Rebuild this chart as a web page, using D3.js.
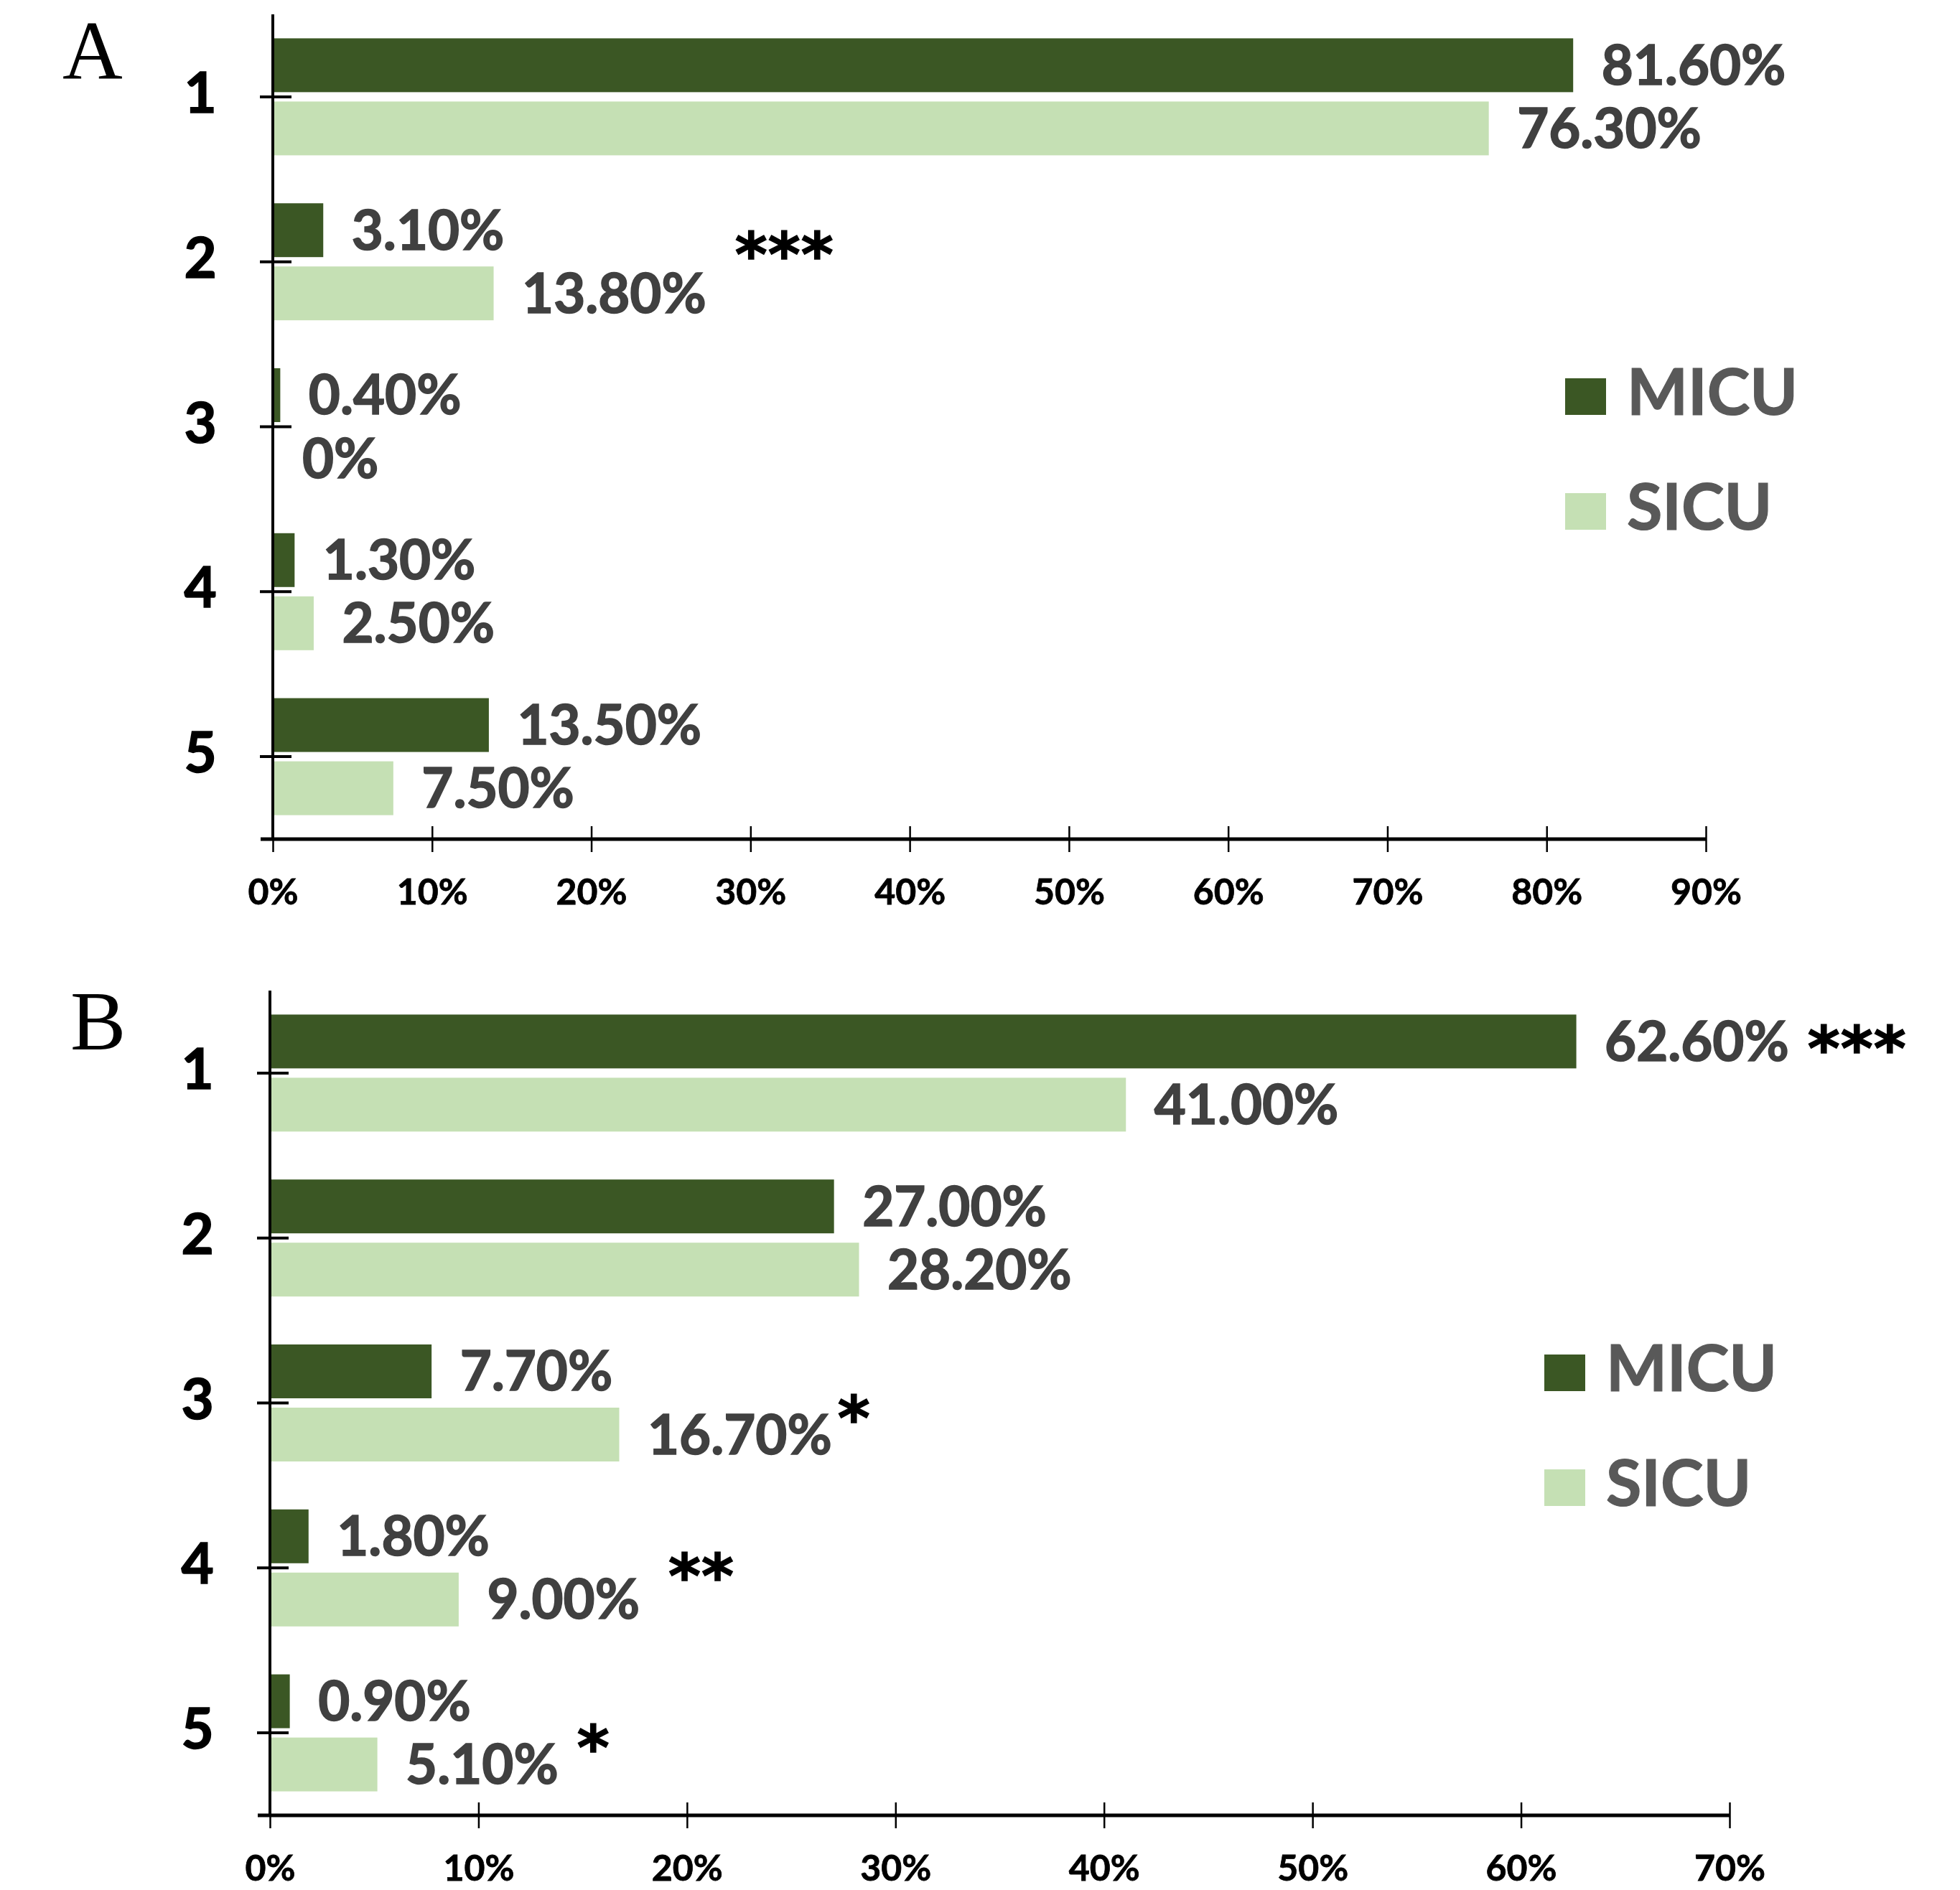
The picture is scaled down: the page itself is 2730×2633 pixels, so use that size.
<!DOCTYPE html>
<html>
<head>
<meta charset="utf-8">
<script src="https://cdn.jsdelivr.net/npm/d3@7"></script>
<style>
  html, body { margin: 0; padding: 0; background: #ffffff; }
  svg { display: block; }
</style>
</head>
<body>
<svg id="chart" width="2730" height="2633"></svg>
<script>
// ---- data ----
const categories = ['1', '2', '3', '4', '5'];
const seriesNames = ['MICU', 'SICU'];

// panel A percentages
const panelAMicu = [81.6, 3.1, 0.4, 1.3, 13.5];
const panelASicu = [76.3, 13.8, 0, 2.5, 7.5];
const panelATicks = [0, 10, 20, 30, 40, 50, 60, 70, 80, 90];

// panel B percentages
const panelBMicu = [62.6, 27.0, 7.7, 1.8, 0.9];
const panelBSicu = [41.0, 28.2, 16.7, 9.0, 5.1];
const panelBTicks = [0, 10, 20, 30, 40, 50, 60, 70];

// significance marks: which category, which label they follow, which row
const panelASignificance = [
  { category: '2', marks: '***', follows: 'SICU', row: 'between', tight: false }
];
const panelBSignificance = [
  { category: '1', marks: '***', follows: 'MICU', row: 'MICU', tight: false },
  { category: '3', marks: '*',   follows: 'SICU', row: 'SICU', tight: true },
  { category: '4', marks: '**',  follows: 'SICU', row: 'between', tight: false },
  { category: '5', marks: '*',   follows: 'SICU', row: 'SICU', tight: false }
];

// ---- styling ----
const colors = { MICU: '#3b5724', SICU: '#c5e0b4' };
const labelFont = 'Lato, "Open Sans", "DejaVu Sans", sans-serif';
const starFont = '"DejaVu Sans", sans-serif';

const panels = [
  { letter: 'A', micu: panelAMicu, sicu: panelASicu, ticks: panelATicks, marks: panelASignificance,
    left: 380, right: 2376, top: 20, axisY: 1169, letterX: 87, letterY: 110, legendX: 2180, betweenShift: -20 },
  { letter: 'B', micu: panelBMicu, sicu: panelBSicu, ticks: panelBTicks, marks: panelBSignificance,
    left: 376, right: 2409, top: 1380, axisY: 2529, letterX: 98, letterY: 1462, legendX: 2151, betweenShift: 2 }
];

const svg = d3.select('#chart');
const fmtValue = v => v === 0 ? '0%' : v.toFixed(2) + '%';

panels.forEach(p => {
  const g = svg.append('g');
  const maxTick = p.ticks[p.ticks.length - 1];

  const x = d3.scaleLinear().domain([0, maxTick]).range([p.left, p.right]);
  const y = d3.scaleBand().domain(categories).range([p.top, p.axisY]).padding(0);
  // two bars per category, centred on the category tick
  const inner = d3.scaleBand().domain(seriesNames).range([-81.5, 81.5]).paddingInner(0.148);
  const rowCenter = (cat, s) => y(cat) + y.bandwidth() / 2 + inner(s) + inner.bandwidth() / 2;

  const rows = [];
  categories.forEach((c, i) => {
    rows.push({ cat: c, series: 'MICU', value: p.micu[i] });
    rows.push({ cat: c, series: 'SICU', value: p.sicu[i] });
  });

  // panel letter
  g.append('text')
    .attr('x', p.letterX).attr('y', p.letterY)
    .attr('font-family', '"Liberation Serif", "Times New Roman", serif')
    .attr('font-size', 116)
    .attr('fill', '#000')
    .text(p.letter);

  // bars
  g.selectAll('rect.bar').data(rows).join('rect')
    .attr('class', 'bar')
    .attr('x', x(0) + 1.5)
    .attr('y', d => y(d.cat) + y.bandwidth() / 2 + inner(d.series))
    .attr('width', d => Math.max(0, x(d.value) - x(0)))
    .attr('height', inner.bandwidth())
    .attr('fill', d => colors[d.series]);

  // value labels
  const labels = g.selectAll('text.val').data(rows).join('text')
    .attr('class', 'val')
    .attr('x', d => x(d.value) + 41)
    .attr('y', d => rowCenter(d.cat, d.series) + 27)
    .attr('font-family', labelFont)
    .attr('font-weight', 700)
    .attr('font-size', 76)
    .attr('fill', '#404040')
    .attr('stroke', '#404040')
    .attr('stroke-width', 1.6)
    .text(d => fmtValue(d.value));

  // significance asterisks
  const labelEnd = {};
  labels.each(function (d) {
    labelEnd[d.cat + '|' + d.series] = x(d.value) + 41 + this.getComputedTextLength();
  });
  g.selectAll('text.sig').data(p.marks).join('text')
    .attr('class', 'sig')
    .attr('x', d => labelEnd[d.category + '|' + d.follows] + (d.tight ? 8 : (d.row === 'between' ? 40 : 26)))
    .attr('y', d => {
      let cy;
      if (d.row === 'between') cy = y(d.category) + y.bandwidth() / 2 + p.betweenShift;
      else if (d.row === 'SICU') cy = rowCenter(d.category, 'SICU') - 33;
      else cy = rowCenter(d.category, d.row);
      return cy + 40;
    })
    .attr('font-family', starFont)
    .attr('font-weight', 700)
    .attr('font-size', 86)
    .attr('letter-spacing', 1)
    .attr('fill', '#000')
    .attr('stroke', '#000')
    .attr('stroke-width', 1.5)
    .text(d => d.marks);

  // x axis
  const xAxis = g.append('g')
    .attr('transform', `translate(0,${p.axisY})`)
    .call(d3.axisBottom(x).tickValues(p.ticks).tickSize(17).tickFormat(d => d + '%'));
  xAxis.select('.domain').remove();
  xAxis.selectAll('.tick line')
    .attr('y1', -18).attr('y2', 18)
    .attr('stroke', '#000').attr('stroke-width', 2.5);
  xAxis.selectAll('.tick text')
    .attr('y', 91).attr('dy', null)
    .attr('font-family', labelFont)
    .attr('font-weight', 700)
    .attr('font-size', 50)
    .attr('fill', '#000')
    .attr('stroke', '#000')
    .attr('stroke-width', 0.8);
  xAxis.append('line')
    .attr('x1', p.left - 17).attr('x2', p.right)
    .attr('y1', 0).attr('y2', 0)
    .attr('stroke', '#000').attr('stroke-width', 5);

  // y axis
  const yAxis = g.append('g')
    .attr('transform', `translate(${p.left},0)`)
    .call(d3.axisLeft(y).tickSize(0).tickPadding(0));
  yAxis.select('.domain').remove();
  yAxis.selectAll('.tick line')
    .attr('x1', -18).attr('x2', 26)
    .attr('stroke', '#000').attr('stroke-width', 4);
  yAxis.selectAll('.tick text')
    .attr('x', -101).attr('dy', null).attr('y', 22)
    .attr('text-anchor', 'middle')
    .attr('font-family', labelFont)
    .attr('font-weight', 700)
    .attr('font-size', 78)
    .attr('fill', '#000')
    .attr('stroke', '#000')
    .attr('stroke-width', 1.6);
  yAxis.append('line')
    .attr('x1', 0).attr('x2', 0)
    .attr('y1', p.top).attr('y2', p.axisY)
    .attr('stroke', '#000').attr('stroke-width', 4);

  // legend
  const legend = g.append('g');
  seriesNames.forEach((s, i) => {
    const base = p.top + 558 + i * 160;
    legend.append('rect')
      .attr('x', p.legendX).attr('y', base - 51)
      .attr('width', 57).attr('height', 51)
      .attr('fill', colors[s]);
    legend.append('text')
      .attr('x', p.legendX + 86).attr('y', base)
      .attr('font-family', labelFont)
      .attr('font-weight', 700)
      .attr('font-size', 90)
      .attr('fill', '#595959')
      .attr('stroke', '#595959')
      .attr('stroke-width', 1.2)
      .text(s);
  });
});
</script>
</body>
</html>
